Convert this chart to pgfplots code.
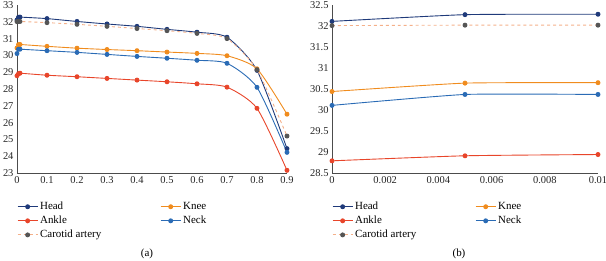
\documentclass[border=0pt]{standalone}
\usepackage{fontspec}
\setmainfont{Liberation Serif}
\usepackage{pgfplots}
\usepackage{pgfplotstable}
\pgfplotsset{compat=1.18}
\definecolor{chead}{HTML}{1F3A7A}
\definecolor{cknee}{HTML}{F08C1E}
\definecolor{cankle}{HTML}{E8452A}
\definecolor{cneck}{HTML}{2A6BB5}
\definecolor{ccar}{HTML}{F4B08A}
\definecolor{ccarm}{HTML}{555555}

\pgfplotstableread{
x      head   knee   ankle  neck   car
0      32.11  30.44  28.79  30.11  32.01
0.005  32.27  30.64  28.91  30.37  32.02
0.01   32.28  30.65  28.94  30.37  32.02
0.1    32.19  30.54  28.82  30.28  31.95
0.2    32.02  30.43  28.73  30.18  31.85
0.3    31.87  30.35  28.63  30.06  31.73
0.4    31.73  30.28  28.53  29.94  31.60
0.5    31.55  30.20  28.43  29.83  31.47
0.6    31.38  30.12  28.31  29.71  31.31
0.7    31.08  29.98  28.11  29.53  31.00
0.8    29.11  29.20  26.85  28.10  29.15
0.9    24.45  26.50  23.16  24.23  25.20
}\datatab

\pgfplotsset{
  base/.style={
    scale only axis, height=168bp,
    axis x line=bottom, axis y line=left,
    axis line style={draw=black!70,-},
    major tick length=0pt,
    scaled x ticks=false, scaled y ticks=false,
    tick label style={font=\fontsize{10.5}{12}\selectfont, text=black!85},
    every axis plot/.append style={line width=0.9pt, mark=*, mark size=2bp},
    legend columns=2,
    legend cell align=left,
    legend image code/.code={\draw[mark repeat=2,mark phase=2] plot coordinates {(0bp,0bp)(10bp,0bp)(20bp,0bp)};},
    legend style={draw=none, fill=none, inner sep=0pt,
      font=\fontsize{11}{12}\selectfont,
      at={(0,0)}, anchor=north west, yshift=-27bp,
      row sep=1bp,
      /tikz/every even column/.append style={column sep=57bp}},
  },
}

\begin{document}
\begin{tikzpicture}
\useasboundingbox (-17bp,-88bp) rectangle (589bp,173bp);
\begin{axis}[base, name=a, width=270bp,
  xmin=0, xmax=0.9, ymin=23, ymax=33,
  xtick={0,0.1,0.2,0.3,0.4,0.5,0.6,0.7,0.8,0.9},
  xticklabels={0,0.1,0.2,0.3,0.4,0.5,0.6,0.7,0.8,0.9},
  ytick={23,24,25,26,27,28,29,30,31,32,33},
  yticklabels={23,24,25,26,27,28,29,30,31,32,33},
  ]
\addplot[chead, smooth, tension=0.4, mark options={fill=chead}] table[x=x,y=head]{\datatab};
\addlegendentry{Head}
\addplot[cknee, smooth, tension=0.4, mark options={fill=cknee}] table[x=x,y=knee]{\datatab};
\addlegendentry{Knee}
\addplot[cankle, smooth, tension=0.4, mark options={fill=cankle}] table[x=x,y=ankle]{\datatab};
\addlegendentry{Ankle}
\addplot[cneck, smooth, tension=0.4, mark options={fill=cneck}] table[x=x,y=neck]{\datatab};
\addlegendentry{Neck}
\addplot[ccar, dashed, smooth, tension=0.4, mark options={solid, fill=ccarm, draw=ccarm}] table[x=x,y=car]{\datatab};
\addlegendentry{Carotid artery}
\end{axis}

\begin{axis}[base, name=b, at={(315bp,0)}, width=266bp,
  xmin=0, xmax=0.01, ymin=28.5, ymax=32.5,
  restrict x to domain=0:0.0101,
  xtick={0,0.002,0.004,0.006,0.008,0.01},
  xticklabels={0,0.002,0.004,0.006,0.008,0.01},
  ytick={28.5,29,29.5,30,30.5,31,31.5,32,32.5},
  yticklabels={28.5,29,29.5,30,30.5,31,31.5,32,32.5},
  ]
\addplot[chead, smooth, tension=0.3, mark options={fill=chead}] table[x=x,y=head]{\datatab};
\addlegendentry{Head}
\addplot[cknee, smooth, tension=0.3, mark options={fill=cknee}] table[x=x,y=knee]{\datatab};
\addlegendentry{Knee}
\addplot[cankle, smooth, tension=0.3, mark options={fill=cankle}] table[x=x,y=ankle]{\datatab};
\addlegendentry{Ankle}
\addplot[cneck, smooth, tension=0.3, mark options={fill=cneck}] table[x=x,y=neck]{\datatab};
\addlegendentry{Neck}
\addplot[ccar, dashed, smooth, tension=0.3, mark options={solid, fill=ccarm, draw=ccarm}] table[x=x,y=car]{\datatab};
\addlegendentry{Carotid artery}
\end{axis}

\node[font=\fontsize{11}{12}\selectfont] at (130bp,-81bp) {(a)};
\node[font=\fontsize{11}{12}\selectfont] at (442bp,-81bp) {(b)};
\end{tikzpicture}
\end{document}
